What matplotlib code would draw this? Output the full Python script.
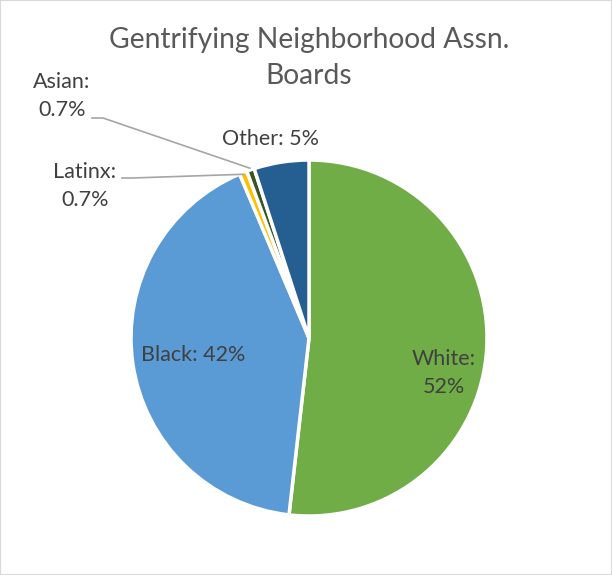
import numpy as np
import matplotlib.pyplot as plt
from matplotlib.patches import Rectangle

plt.rcParams['font.family'] = ['Lato', 'DejaVu Sans']

groups = ['White', 'Black', 'Latinx', 'Asian', 'Other']
shares = [52, 42, 0.7, 0.7, 5]
labels = ['White:\n52%', 'Black: 42%', 'Latinx:\n0.7%', 'Asian:\n0.7%', 'Other: 5%']
colors = ['#70AD47', '#5B9BD5', '#FFC000', '#375623', '#255E91']

W, H = 612, 575
cx, cy, R = 309, 338, 178  # pie centre / radius in pixels


def px(x, y):
    # pixel position (from top-left) -> data units of the pie
    return ((x - cx) / R, (cy - y) / R)


fig = plt.figure(figsize=(W / 100, H / 100), dpi=100)
ax = fig.add_axes([0, 0, 1, 1])
wedges, _ = ax.pie(shares, colors=colors, startangle=90, counterclock=False,
                   wedgeprops=dict(edgecolor='white', linewidth=2.5))
ax.set_xlim(-cx / R, (W - cx) / R)
ax.set_ylim((cy - H) / R, cy / R)
ax.axis('off')

fig.patches.append(Rectangle((0, 0), 1, 1, transform=fig.transFigure, fill=False,
                             edgecolor='#D9D9D9', linewidth=1.5))

ax.text(*px(309, 58), 'Gentrifying Neighborhood Assn.\nBoards', ha='center', va='center',
        fontsize=20.3, color='#595959', linespacing=1.45)

txt = '#404040'
fs = 15.5
# labels inside / near the big slices
ax.text(*px(444, 373), labels[0], ha='center', va='center', fontsize=fs, color=txt, linespacing=1.45)
ax.text(*px(193, 355), labels[1], ha='center', va='center', fontsize=fs, color=txt)
ax.text(*px(270, 139), labels[4], ha='center', va='center', fontsize=fs, color=txt)

# small slices with leader lines
def mid_edge(w):
    a = np.deg2rad((w.theta1 + w.theta2) / 2)
    return np.cos(a), np.sin(a)

ax.text(*px(85, 186), labels[2], ha='center', va='center', fontsize=fs, color=txt, linespacing=1.45)
ex, ey = mid_edge(wedges[2])
lx, ly = px(122, 178)
bx, by = px(132, 178)
ax.plot([lx, bx, ex * 0.99], [ly, by, ey * 0.99], color='#A6A6A6', lw=1.2)

ax.text(*px(62, 96), labels[3], ha='center', va='center', fontsize=fs, color=txt, linespacing=1.45)
ex, ey = mid_edge(wedges[3])
lx, ly = px(92, 118)
bx, by = px(103, 118)
ax.plot([lx, bx, ex * 1.01], [ly, by, ey * 1.01], color='#A6A6A6', lw=1.2)

fig.savefig('out.png', dpi=100)
